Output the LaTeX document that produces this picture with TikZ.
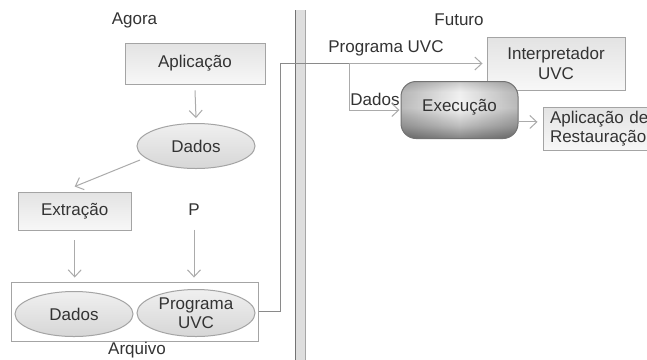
\documentclass[tikz,border=0pt]{standalone}
\usepackage{fontspec}
\setmainfont{Liberation Sans}
\usetikzlibrary{arrows.meta,shapes.geometric,fadings,calc}

\definecolor{txt}{HTML}{333333}
\definecolor{edge}{HTML}{A4A4A4}
\definecolor{wire}{HTML}{8A8A8A}
\definecolor{tip}{HTML}{ABABAB}

% body of the "Execução" block: dark bottom, bright band, greyish top
\pgfdeclareverticalshading{execshade}{100bp}{%
  color(0bp)=(black!48); color(25bp)=(black!48); color(36bp)=(black!26);
  color(52bp)=(black!4); color(66bp)=(black!6); color(75bp)=(black!20); color(100bp)=(black!20)}
\tikzfading[name=edgefade, left color=transparent!20, right color=transparent!20,
  middle color=transparent!100]

\tikzset{
  lbl/.style={text=txt, inner sep=0pt, font=\fontsize{17bp}{19.5bp}\selectfont},
  box/.style={lbl, draw=edge, line width=1bp, top color=black!11, bottom color=black!3,
    minimum height=#1, align=center},
  blob/.style={lbl, ellipse, draw=edge, line width=1bp, top color=black!6,
    bottom color=black!16, minimum width=118bp, minimum height=#1, align=center},
  arr/.style={draw=tip, line width=1bp, -{Straight Barb[length=7bp,width=13bp]}},
  wireline/.style={draw=wire, line width=1bp}
}

\begin{document}
\begin{tikzpicture}[x=1bp,y=-1bp]
\useasboundingbox (0,0) rectangle (647,359);
\clip (0,0) rectangle (647,359);
\fill[white] (0,0) rectangle (647,359);

% separator between the two halves
\fill[black!13] (295.5,10) rectangle (305,365);
\draw[black!55, line width=1bp] (295.5,10) -- (295.5,365);
\draw[black!35, line width=1bp] (305,10) -- (305,365);

% ---- left half: Agora ----
\node[lbl] (agora) at (134.5,20) {Agora};
\node[box=41bp, minimum width=140bp] (apl) at (195,63.5) {Aplicação};
\node[blob=45bp] (dados1) at (196,146) {Dados};
\node[box=38bp, minimum width=113bp] (extr) at (74.7,211) {Extração};
\node[lbl] (ptxt) at (194,210) {P};
\node[draw=edge, line width=1bp, fill=white, minimum width=246bp, minimum height=59bp,
  inner sep=0pt] (arq) at (135,311.5) {};
\node[blob=45bp] (dados2) at (74,314) {Dados};
\node[blob=47bp] (prog) at (196,313) {Programa\\UVC};
\node[lbl] (arqtxt) at (137,350) {Arquivo};

\draw[arr] ([yshift=-6pt]apl.south) -- ([yshift=5pt]dados1.north);
\draw[arr] ([shift={(-56,14)}]dados1.center) -- ([yshift=5pt]extr.north);
\draw[arr] ([yshift=-10pt]extr.south) -- ([yshift=4pt]extr.south |- arq.north);
\draw[arr] ([yshift=-20pt]ptxt.center) -- ([yshift=4pt]ptxt.center |- arq.north);

% ---- right half: Futuro ----
\node[lbl] (futuro) at (459,20) {Futuro};
\node[box=53bp, minimum width=138bp] (interp) at (556,63.5) {Interpretador\\UVC};
\node[box=43bp, minimum width=120bp, align=left, text width=106bp] (rest) at (603,128.5)
  {Aplicação de\\Restauração};

\node[lbl] (proglbl) at (386,48) {Programa UVC};
\node[lbl] (dadoslbl) at (375,99) {Dados};

% execution block, drawn over the interpreter box
\path[rounded corners=15bp, shading=execshade] (401,81.5) rectangle (518,138.5);
\fill[black, path fading=edgefade, rounded corners=15bp, opacity=0.3] (401,81.5) rectangle (518,138.5);
\node[draw=black!55, line width=1bp, rounded corners=15bp, minimum width=117bp,
  minimum height=57bp, inner sep=0pt] (exec) at (459.5,110) {};
\node[lbl] (exectxt) at (459.5,107.5) {Execução};

\coordinate (bend) at (280,63.5);
\coordinate (split) at (349,63.5);
\draw[wireline] (arq.east) -| (bend) -- (split);
\draw[arr] (split) -- ([xshift=-4pt]interp.west);
\draw[arr] (split) |- ([xshift=-1pt]exec.west);
\draw[arr] ([yshift=-12pt]exec.east) -- ([yshift=-12pt, xshift=-5pt]exec.east -| rest.west);
\end{tikzpicture}
\end{document}
